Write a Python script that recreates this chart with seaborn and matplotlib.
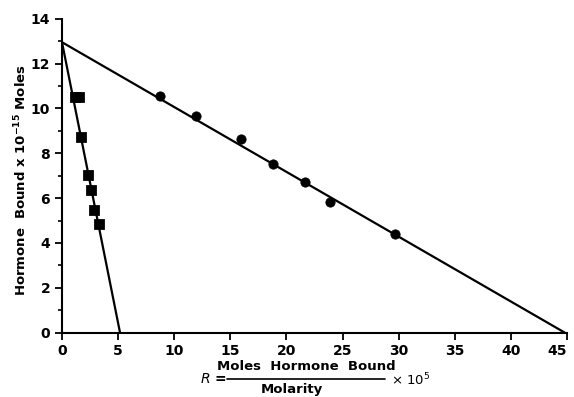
import matplotlib
matplotlib.use("Agg")
import matplotlib.pyplot as plt
import seaborn as sns
import pandas as pd
from matplotlib.lines import Line2D
from matplotlib.ticker import MultipleLocator

# data
circle_x = [8.73, 11.97, 15.93, 18.76, 21.62, 23.9, 29.65]
circle_y = [10.55, 9.65, 8.62, 7.52, 6.70, 5.81, 4.39]
square_x = [1.18, 1.48, 1.68, 2.33, 2.57, 2.89, 3.27]
square_y = [10.5, 10.5, 8.73, 7.02, 6.35, 5.46, 4.83]
fit1_x = [0, 44.8]
fit1_y = [12.95, 0]
fit2_x = [0, 5.17]
fit2_y = [12.95, 0]
x_ticks = [0, 5, 10, 15, 20, 25, 30, 35, 40, 45]
y_ticks = [0, 2, 4, 6, 8, 10, 12, 14]

sns.set_style("ticks")
plt.rcParams['font.family'] = ['DejaVu Sans']
plt.rcParams['text.color'] = 'black'
plt.rcParams['axes.labelcolor'] = 'black'
plt.rcParams['xtick.color'] = 'black'
plt.rcParams['ytick.color'] = 'black'

fig = plt.figure(figsize=(5.74, 3.97), dpi=100)
ax = fig.add_axes([0.108, 0.162, 0.880, 0.791])

sns.lineplot(x=fit1_x, y=fit1_y, ax=ax, color='black', lw=1.6)
sns.lineplot(x=fit2_x, y=fit2_y, ax=ax, color='black', lw=1.6)
sns.scatterplot(x=circle_x, y=circle_y, ax=ax, marker='o', s=45, color='black', edgecolor='black', zorder=3)
sns.scatterplot(x=square_x, y=square_y, ax=ax, marker='s', s=50, color='black', edgecolor='black', zorder=3)

ax.set_xlim(0, 45)
ax.set_ylim(0, 14)
ax.set_xticks(x_ticks)
ax.set_yticks(y_ticks)
ax.yaxis.set_minor_locator(MultipleLocator(1))
ax.tick_params(axis='both', which='major', length=5, width=1.3, labelsize=10, direction='out', colors='black')
ax.tick_params(axis='y', which='minor', length=3, width=1.2)
for lab in ax.get_xticklabels() + ax.get_yticklabels():
    lab.set_fontweight('bold')
    lab.set_color('black')
xl = ax.get_xticklabels()
xl[-1].set_horizontalalignment('right')
xl[-1].set_x(45.5)
for s in ['top', 'right']:
    ax.spines[s].set_visible(False)
for s in ['left', 'bottom']:
    ax.spines[s].set_linewidth(1.5)
    ax.spines[s].set_color('black')
ax.set_xlabel('')
ax.set_ylabel('')

fig.text(21 / 574, 1 - 180 / 397, r'Hormone  Bound x 10$^{\mathbf{-15}}$ Moles', rotation=90,
         ha='center', va='center', fontsize=9.5, fontweight='bold', color='black')

def fy(y):
    return 1 - y / 397

fig.text(213 / 574, fy(379), r'$\it{R}$ =', ha='center', va='center', fontsize=10, fontweight='bold', color='black')
fig.text(306 / 574, fy(367), 'Moles  Hormone  Bound', ha='center', va='center', fontsize=9.5, fontweight='bold', color='black')
fig.add_artist(Line2D([227 / 574, 385 / 574], [fy(378.5), fy(378.5)], color='black', lw=1.2, transform=fig.transFigure))
fig.text(292 / 574, fy(390), 'Molarity', ha='center', va='center', fontsize=9.5, fontweight='bold', color='black')
fig.text(391 / 574, fy(380), r'× 10$^{5}$', ha='left', va='center', fontsize=9.5, color='black')

fig.savefig('out.png', dpi=100)
